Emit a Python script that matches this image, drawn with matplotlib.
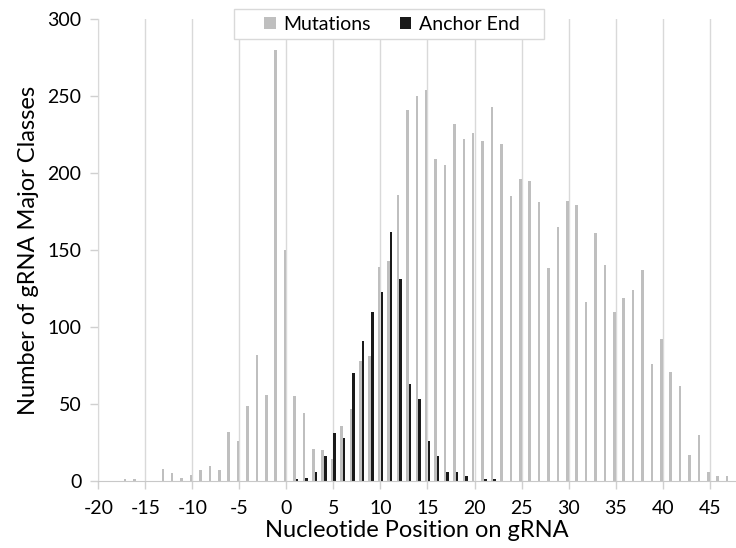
import matplotlib
matplotlib.use("Agg")
import matplotlib.pyplot as plt
from matplotlib.patches import Rectangle
import numpy as np

positions = list(range(-20, 48))
mutations = [0, 0, 0, 1, 1, 0, 0, 8, 5, 2, 4, 7, 10, 7, 32, 26, 49, 82, 56, 280,
             150, 55, 44, 21, 20, 14, 36, 47, 78, 81, 139, 143, 186, 241, 250, 254,
             209, 205, 232, 222, 226, 221, 243, 219, 185, 196, 195, 181, 138, 165,
             182, 179, 116, 161, 140, 110, 119, 124, 137, 76, 92, 71, 62, 17, 30, 6, 3, 3]
anchor_end = [0] * 20 + [0, 1, 2, 6, 16, 31, 28, 70, 91, 110, 123, 162, 131, 63, 53,
              26, 16, 6, 6, 3, 0, 1, 1] + [0] * 25
xticks = list(range(-20, 46, 5))
yticks = [0, 50, 100, 150, 200, 250, 300]

plt.rcParams['font.family'] = ['Lato', 'DejaVu Sans']
plt.rcParams['axes.unicode_minus'] = False
W, H = 736, 548
fig = plt.figure(figsize=(W / 100, H / 100), dpi=100)
ax = fig.add_axes([98.3 / W, 1 - 481 / H, 1 - 98.3 / W, (481 - 19) / H])

x = np.array(positions)
w = 0.27
ax.bar(x - 0.14, mutations, width=w, color='#bfbfbf', label='Mutations', zorder=3)
ax.bar(x + 0.14, anchor_end, width=w, color='#1a1a1a', label='Anchor End', zorder=3)

ax.set_xlim(-20, 47.8)
ax.set_ylim(0, 300)
ax.set_xticks(xticks)
ax.set_yticks(yticks)
ax.tick_params(axis='both', labelsize=14, colors='#d0d0d0', labelcolor='#000000',
               length=6, width=1, direction='out')
ax.tick_params(axis='x', pad=8)
ax.tick_params(axis='y', pad=6)
ax.grid(axis='x', color='#d9d9d9', linewidth=1, zorder=0)
for s in ['top', 'right']:
    ax.spines[s].set_visible(False)
ax.spines['left'].set_color('#d9d9d9')
ax.spines['bottom'].set_color('#c8c8c8')
ax.spines['bottom'].set_zorder(4)

ax.set_xlabel('Nucleotide Position on gRNA', fontsize=17, labelpad=2)
ax.set_ylabel('Number of gRNA Major Classes', fontsize=17, labelpad=6)

fig.patches.append(Rectangle((234 / W, 1 - 39 / H), (544 - 234) / W, 30 / H,
                             transform=fig.transFigure, facecolor='white',
                             edgecolor='#d9d9d9', linewidth=1, zorder=5))
leg = fig.legend(loc='center', bbox_to_anchor=(392 / W, 1 - 24 / H), ncol=2,
                 fontsize=14, frameon=False, handlelength=0.57,
                 handleheight=0.57, handletextpad=0.4, columnspacing=1.5,
                 borderpad=0.2)
leg.set_zorder(6)

fig.savefig('out.png', dpi=100)
